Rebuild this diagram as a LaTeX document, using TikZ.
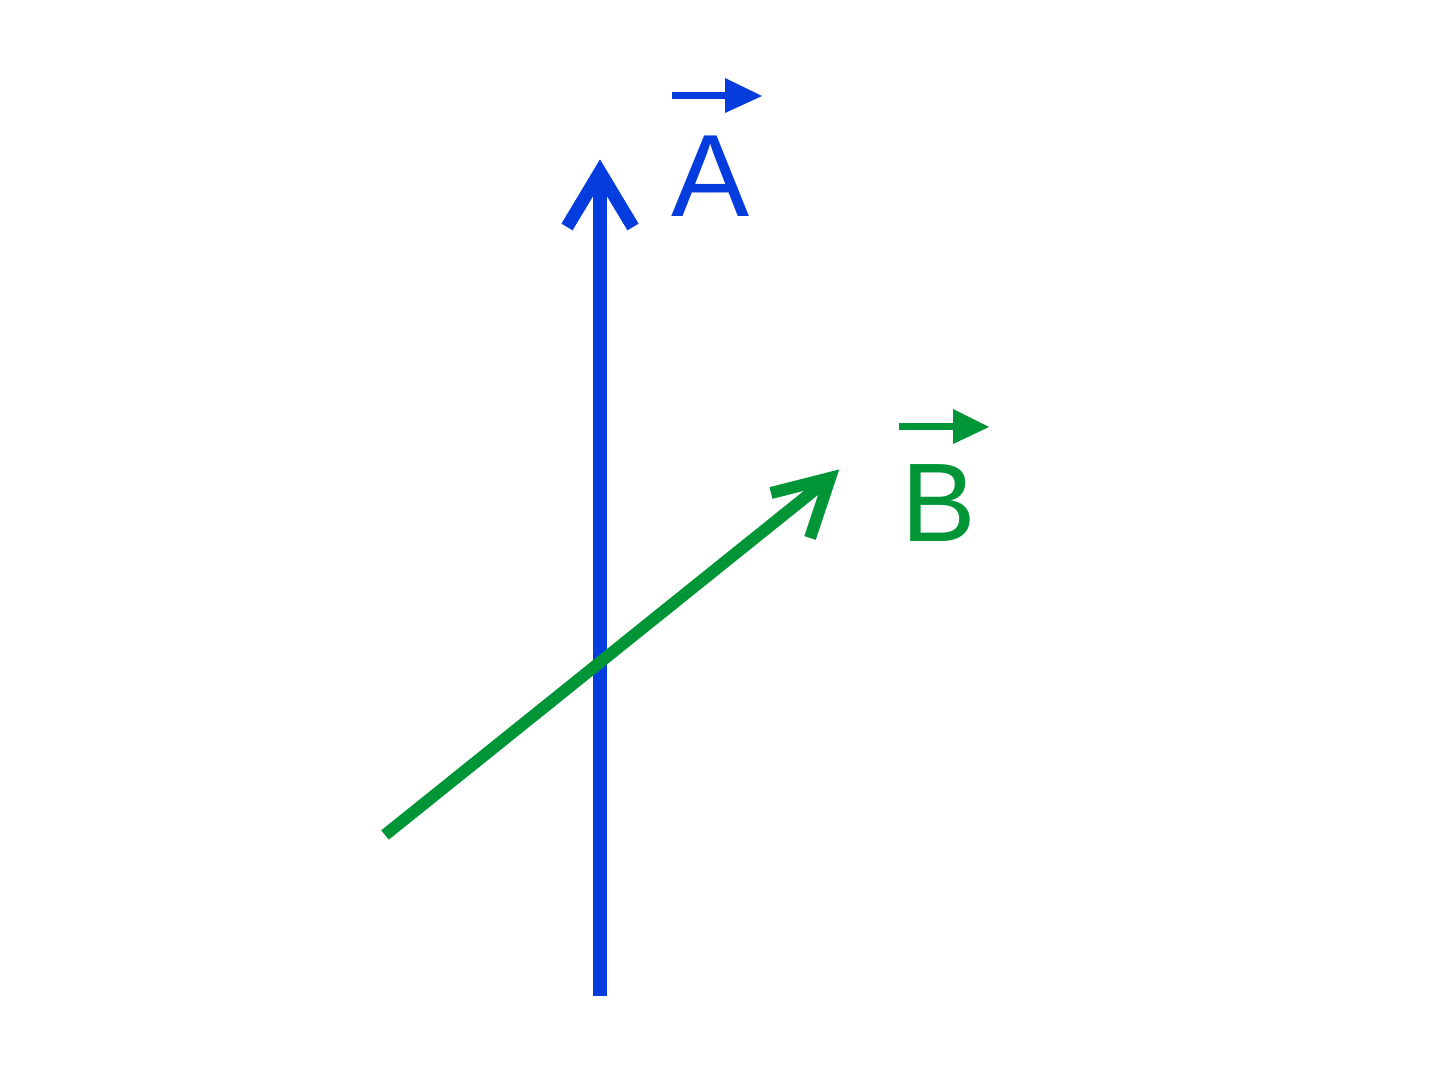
\documentclass[tikz,border=0pt]{standalone}
\usepackage{fontspec}
\setmainfont{Liberation Sans}
\definecolor{vblue}{RGB}{5,60,222}
\definecolor{vgreen}{RGB}{0,150,55}
\begin{document}
\begin{tikzpicture}[x=0.01cm,y=-0.01cm,
  shaft/.style={line width=0.14cm, line cap=butt},
  gshaft/.style={line width=0.12cm, line cap=butt},
  barb/.style={line width=0.13cm, line join=miter, line cap=butt},
  gbarb/.style={line width=0.12cm, line join=miter, line cap=butt},
  vecline/.style={line width=0.07cm, line cap=butt},
  lab/.style={inner sep=0pt, anchor=base}]
\fill[white] (0,0) rectangle (1448,1086);
% vector A
\coordinate (a0) at (600,996);
\coordinate (a1) at (600,172);
\coordinate (al) at (567,227);
\coordinate (ar) at (633,227);
\draw[shaft,vblue] (a0) -- (600,182);
\draw[barb,vblue] (al) -- (a1) -- (ar);
% vector B
\coordinate (b0) at (385,835);
\coordinate (b1) at (830,478);
\coordinate (bl) at (771,493);
\coordinate (br) at (810,538);
\draw[gshaft,vgreen] (b0) -- (822,484);
\draw[gbarb,vgreen] (bl) -- (b1) -- (br);
% labels
\node[lab,vblue,font=\fontsize{33.3}{33.3}\selectfont] (A) at (711,217) {A};
\node[lab,vgreen,font=\fontsize{31.8}{31.8}\selectfont] (B) at (939,542) {B};
% vector marks over labels
\coordinate (va0) at (672,96);
\coordinate (va1) at (728,96);
\draw[vecline,vblue] (va0) -- (va1);
\fill[vblue] (725,78) -- (762,96) -- (725,113) -- cycle;
\coordinate (vb0) at (899,427);
\coordinate (vb1) at (956,427);
\draw[vecline,vgreen] (vb0) -- (vb1);
\fill[vgreen] (953,409) -- (989,427) -- (953,444) -- cycle;
\end{tikzpicture}
\end{document}
